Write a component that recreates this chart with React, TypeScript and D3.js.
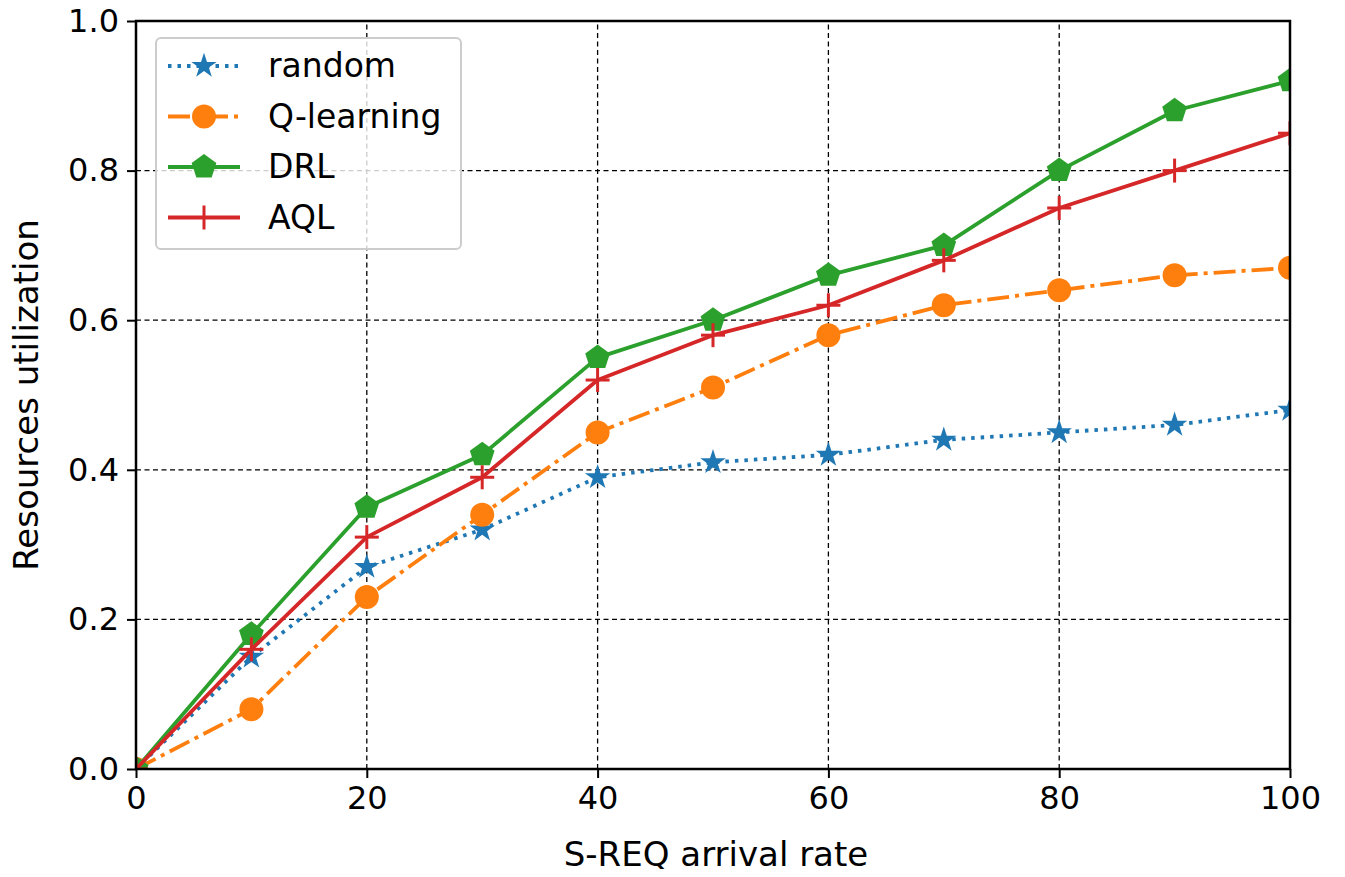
import React, { useEffect, useRef } from 'react';
import * as d3 from 'd3';

const xValues = [0, 10, 20, 30, 40, 50, 60, 70, 80, 90, 100];
const randomValues = [0, 0.15, 0.27, 0.32, 0.39, 0.41, 0.42, 0.44, 0.45, 0.46, 0.48];
const qLearningValues = [0, 0.08, 0.23, 0.34, 0.45, 0.51, 0.58, 0.62, 0.64, 0.66, 0.67];
const drlValues = [0, 0.18, 0.35, 0.42, 0.55, 0.6, 0.66, 0.7, 0.8, 0.88, 0.92];
const aqlValues = [0, 0.16, 0.31, 0.39, 0.52, 0.58, 0.62, 0.68, 0.75, 0.8, 0.85];
const xTicks = [0, 20, 40, 60, 80, 100];
const yTicks = [0, 0.2, 0.4, 0.6, 0.8, 1.0];

const series = [
  { name: 'random', values: randomValues, color: '#1f77b4', dash: '3.5,6', marker: 'star' },
  { name: 'Q-learning', values: qLearningValues, color: '#ff7f0e', dash: '22,6,4,6', marker: 'circle' },
  { name: 'DRL', values: drlValues, color: '#2ca02c', dash: null, marker: 'pentagon' },
  { name: 'AQL', values: aqlValues, color: '#d62728', dash: null, marker: 'plus' },
];

const FONT = 'DejaVu Sans, sans-serif';

const drawMarker = (g, type, x, y, color) => {
  if (type === 'circle') {
    g.append('circle').attr('cx', x).attr('cy', y).attr('r', 12).attr('fill', color);
  } else if (type === 'star') {
    g.append('path')
      .attr('d', d3.symbol(d3.symbolStar, 200)())
      .attr('transform', `translate(${x},${y})`)
      .attr('fill', color);
  } else if (type === 'pentagon') {
    const r = 13;
    const pts = d3.range(5).map((i) => {
      const a = -Math.PI / 2 + (i * 2 * Math.PI) / 5;
      return [x + r * Math.cos(a), y + r * Math.sin(a)];
    });
    g.append('polygon').attr('points', pts.map((p) => p.join(',')).join(' ')).attr('fill', color);
  } else {
    g.append('line').attr('x1', x - 12).attr('x2', x + 12).attr('y1', y).attr('y2', y)
      .attr('stroke', color).attr('stroke-width', 3);
    g.append('line').attr('x1', x).attr('x2', x).attr('y1', y - 12).attr('y2', y + 12)
      .attr('stroke', color).attr('stroke-width', 3);
  }
};

const App = () => {
  const ref = useRef(null);

  useEffect(() => {
    const width = 1345;
    const height = 877;
    const margin = { left: 136, right: 55, top: 21, bottom: 108 };
    const root = d3.select(ref.current);
    root.selectAll('*').remove();

    const svg = root.append('svg').attr('width', width).attr('height', height)
      .style('display', 'block').style('background', '#fff');

    const x = d3.scaleLinear().domain([0, 100]).range([margin.left, width - margin.right]);
    const y = d3.scaleLinear().domain([0, 1]).range([height - margin.bottom, margin.top]);

    svg.append('defs').append('clipPath').attr('id', 'plot-clip')
      .append('rect')
      .attr('x', x(0)).attr('y', y(1))
      .attr('width', x(100) - x(0)).attr('height', y(0) - y(1));

    // grid
    const grid = svg.append('g');
    xTicks.slice(1, -1).forEach((t) => {
      grid.append('line').attr('x1', x(t)).attr('x2', x(t)).attr('y1', y(0)).attr('y2', y(1))
        .attr('stroke', '#000').attr('stroke-width', 1.3).attr('stroke-dasharray', '5,3.5');
    });
    yTicks.slice(1, -1).forEach((t) => {
      grid.append('line').attr('x1', x(0)).attr('x2', x(100)).attr('y1', y(t)).attr('y2', y(t))
        .attr('stroke', '#000').attr('stroke-width', 1.3).attr('stroke-dasharray', '5,3.5');
    });

    // lines + markers
    const plot = svg.append('g').attr('clip-path', 'url(#plot-clip)');
    series.forEach((s) => {
      const line = d3.line<number>().x((_, i) => x(xValues[i])).y((d) => y(d));
      plot.append('path').attr('d', line(s.values)).attr('fill', 'none')
        .attr('stroke', s.color).attr('stroke-width', 3.8)
        .attr('stroke-linejoin', 'round')
        .attr('stroke-dasharray', s.dash);
      s.values.forEach((v, i) => drawMarker(plot, s.marker, x(xValues[i]), y(v), s.color));
    });

    // frame
    svg.append('rect').attr('x', x(0)).attr('y', y(1))
      .attr('width', x(100) - x(0)).attr('height', y(0) - y(1))
      .attr('fill', 'none').attr('stroke', '#000').attr('stroke-width', 2.5);

    // ticks
    const xAxis = d3.axisBottom(x).tickValues(xTicks).tickSize(9).tickPadding(8).tickFormat(d3.format('d'));
    const yAxis = d3.axisLeft(y).tickValues(yTicks).tickSize(9).tickPadding(8).tickFormat(d3.format('.1f'));
    const gx = svg.append('g').attr('transform', `translate(0,${y(0)})`).call(xAxis);
    const gy = svg.append('g').attr('transform', `translate(${x(0)},0)`).call(yAxis);
    [gx, gy].forEach((g) => {
      g.select('.domain').remove();
      g.selectAll('line').attr('stroke', '#000').attr('stroke-width', 2);
      g.selectAll('text').attr('fill', '#000').style('font-family', FONT).style('font-size', '32px');
    });

    // axis labels
    svg.append('text').attr('x', (x(0) + x(100)) / 2 + 3).attr('y', 866)
      .attr('text-anchor', 'middle').style('font-family', FONT).style('font-size', '34px')
      .text('S-REQ arrival rate');
    svg.append('text')
      .attr('transform', `translate(38,${(y(0) + y(1)) / 2}) rotate(-90)`)
      .attr('text-anchor', 'middle').style('font-family', FONT).style('font-size', '34px')
      .text('Resources utilization');

    // legend
    const lg = svg.append('g');
    lg.append('rect').attr('x', 156).attr('y', 38).attr('width', 305).attr('height', 211)
      .attr('rx', 5).attr('fill', '#fff').attr('fill-opacity', 0.8)
      .attr('stroke', '#cccccc').attr('stroke-width', 2);
    series.forEach((s, i) => {
      const cy = 66 + i * 50.5;
      lg.append('line').attr('x1', 168).attr('x2', 240).attr('y1', cy).attr('y2', cy)
        .attr('stroke', s.color).attr('stroke-width', 3.8).attr('stroke-dasharray', s.dash);
      drawMarker(lg, s.marker, 204, cy, s.color);
      lg.append('text').attr('x', 268).attr('y', cy + 11)
        .style('font-family', FONT).style('font-size', '33px').text(s.name);
    });
  }, []);

  return <div ref={ref} style={{ margin: -8 }}></div>;
};

export default App;
